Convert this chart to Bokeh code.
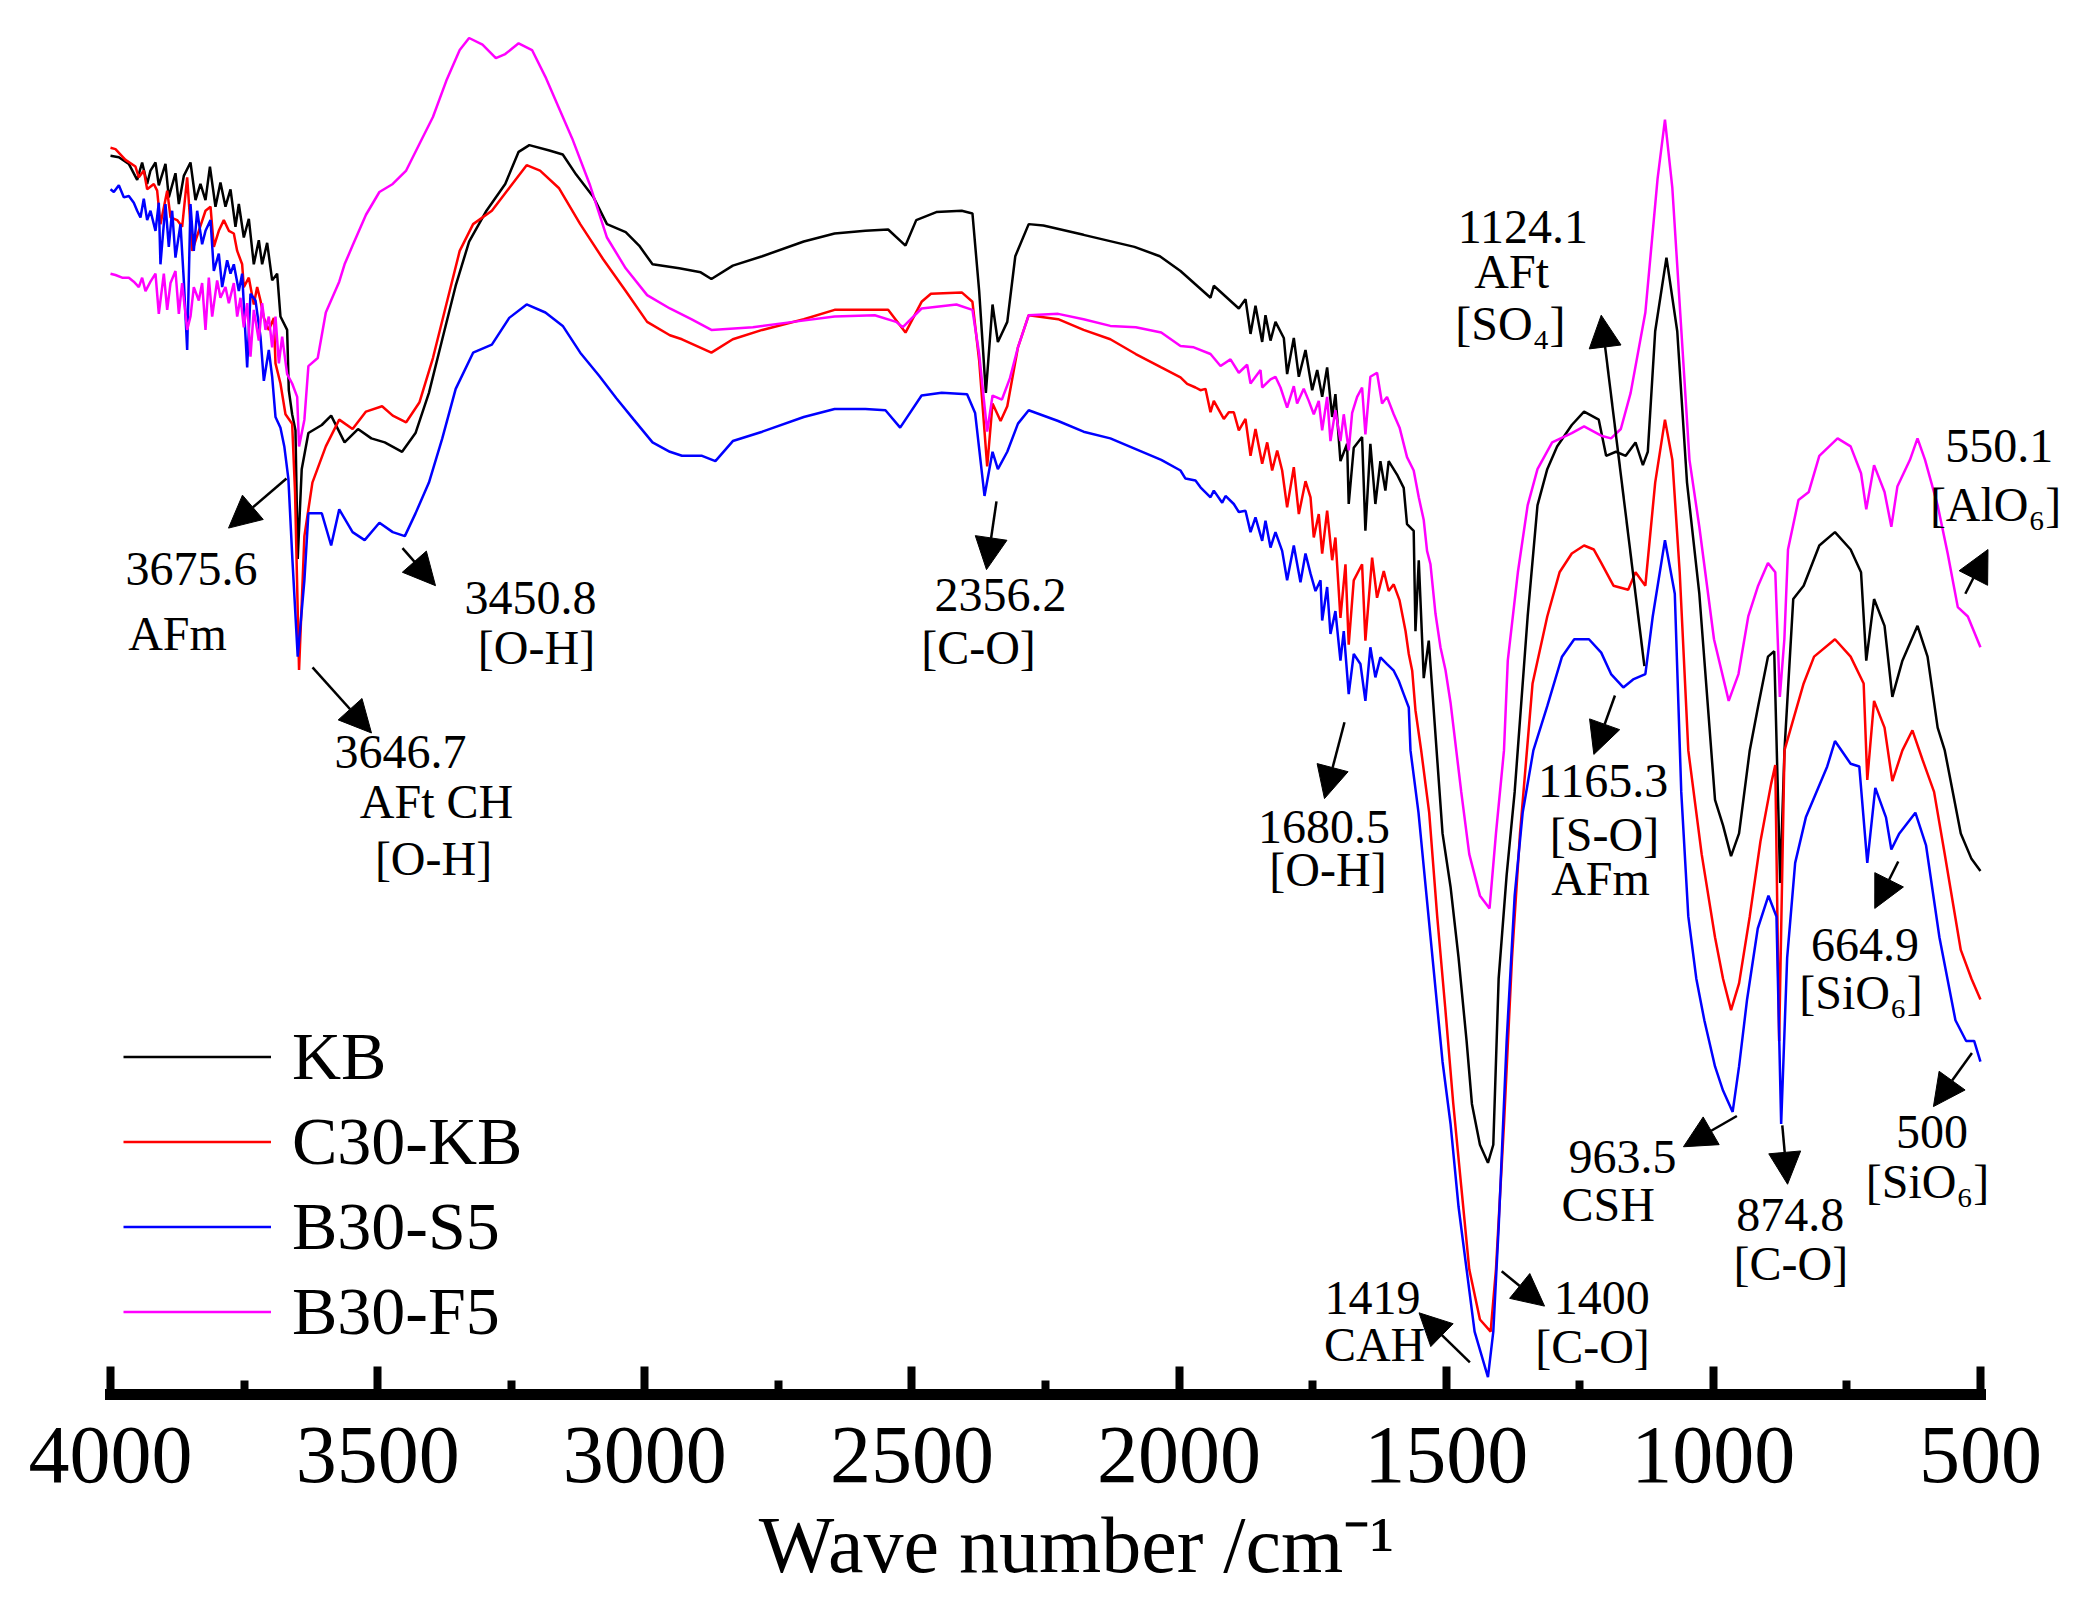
from bokeh.plotting import figure
from bokeh.models import Range1d, FixedTicker, Arrow, NormalHead, Legend, LegendItem, ColumnDataSource
from bokeh.embed import file_html
from bokeh.resources import INLINE
from bokeh.core.properties import value

FONT = "Liberation Serif"

# ---------------- data (wave number cm-1, transmittance a.u.) ----------------
series_names = ["KB", "C30-KB", "B30-S5", "B30-F5"]
series_colors = ["#000000", "#ff0000", "#0000ff", "#ff00ff"]

kb_wn = [4000, 3984.4, 3965.7, 3950.1, 3940.8, 3931.4, 3925.2, 3915.8, 3909.6, 3897.1, 3890.9, 3878.4,
         3872.1, 3862.8, 3850.3, 3840.9, 3831.6, 3822.2, 3813.9, 3803.5, 3794.2, 3784.8, 3775.4, 3766.1,
         3759.8, 3750.5, 3741.1, 3731.8, 3722.4, 3716.2, 3706.8, 3697.4, 3688.1, 3681.9, 3669.4, 3666.3,
         3660.0, 3653.8,
         3649.6, 3642.1, 3629.6, 3604.5,
         3587.0, 3561.9, 3536.8, 3511.8, 3486.7, 3454.2, 3429.1, 3404.0, 3379.0, 3353.9, 3328.8, 3296.3,
         3261.2, 3236.1, 3216.1, 3178.5, 3153.5, 3128.4, 3095.8, 3070.8, 3035.7, 3010.6, 2985.5, 2935.4,
         2895.3, 2875.3, 2835.2, 2780.1, 2702.4, 2644.7, 2587.1, 2544.5, 2512.0, 2491.9, 2454.3, 2406.7,
         2386.7, 2374.1, 2361.6, 2349.1, 2339.1, 2321.5, 2306.5, 2281.4, 2253.9, 2178.7, 2083.5, 2035.9,
         1997.3, 1941.1, 1934.9, 1888.1, 1875.6, 1866.2, 1856.9, 1844.4, 1838.2, 1828.8, 1819.5, 1803.9,
         1797.7, 1785.2, 1775.8, 1763.3, 1750.8, 1741.4, 1732.1, 1722.8, 1713.4, 1707.3, 1697.9, 1685.4,
         1682.4, 1673.0, 1657.4, 1651.2, 1641.9, 1632.5, 1623.1, 1613.8, 1607.6, 1592.0, 1579.5, 1573.3,
         1560.8, 1557.5, 1551.3, 1542.0, 1532.6, 1523.3, 1506.8, 1491.8, 1476.8, 1461.8, 1451.8, 1436.8,
         1421.8, 1411.8, 1401.8, 1386.8, 1371.8, 1347.5, 1329.1, 1310.8, 1292.4, 1264.9, 1241.9, 1214.4,
         1200.6, 1182.3, 1163.9, 1145.6, 1131.8, 1122.6, 1108.8, 1087.7, 1067.5, 1049.2, 1026.2, 996.8,
         981.8, 966.8, 951.8, 931.8, 916.1, 897.7, 886.0, 874.8, 866.8, 850.4, 830.9, 801.6,
         772.3, 743.0, 723.5, 713.7, 699.1, 679.5, 664.9, 646.1, 617.8, 599.0, 580.1, 566.8,
         536.8, 516.8, 500]
kb_t = [92.5, 92.4, 91.9, 90.7, 92.0, 90.4, 91.4, 92.0, 90.3, 91.9, 89.4, 91.2,
        88.9, 91.0, 92.0, 89.2, 90.4, 89.2, 91.7, 88.7, 90.5, 88.7, 90.0, 87.2,
        88.9, 86.4, 87.8, 84.4, 86.2, 84.4, 86.0, 83.2, 83.7, 80.5, 79.5, 75.0,
        73.2, 72.0,
        62.4, 69.1, 71.8, 72.4,
        73.1, 71.1, 72.1, 71.4, 71.1, 70.4, 71.8, 74.8, 78.8, 82.8, 86.1, 88.4,
        90.4, 92.8, 93.3, 92.9, 92.6, 91.1, 89.4, 87.4, 86.8, 85.8, 84.4, 84.1,
        83.8, 83.3, 84.3, 85.0, 86.1, 86.7, 86.9, 87.0, 85.8, 87.7, 88.3, 88.4,
        88.2, 82.4, 74.8, 81.4, 78.6, 80.1, 85.0, 87.4, 87.3, 86.6, 85.7, 85.0,
        83.9, 81.9, 82.8, 81.1, 81.8, 79.2, 81.3, 78.6, 80.6, 78.7, 80.1, 78.9,
        76.2, 78.9, 76.0, 78.0, 75.0, 76.5, 74.5, 76.7, 73.0, 74.7, 69.7, 71.0,
        66.5, 70.7, 71.5, 64.5, 71.0, 66.5, 69.7, 67.5, 69.7, 68.7, 67.7, 65.0,
        64.5, 57.0, 62.3, 53.5, 56.3, 51.1, 41.9, 37.9, 32.6, 26.4, 21.7, 18.65,
        17.3, 18.65, 31.05, 38.8, 45.0, 58.1, 66.4, 69.1, 70.8, 72.4, 73.4, 72.8,
        70.1, 70.4, 70.1, 71.1, 69.4, 70.4, 79.4, 84.9, 79.4, 68.1, 59.8, 44.4,
        42.5, 40.2, 41.9, 48.1, 51.4, 55.1, 55.5, 38.2, 48.1, 59.4, 60.4, 63.4,
        64.4, 63.1, 61.4, 54.8, 59.4, 57.4, 52.1, 54.8, 57.4, 55.1, 49.8, 48.1,
        41.9, 40.0, 39.1]

c30_wn = [4000, 3990.7, 3972.0, 3953.3, 3947.0, 3937.7, 3931.4, 3918.9, 3912.7, 3906.5, 3893.9, 3887.7,
          3875.3, 3865.9, 3856.5, 3847.2, 3834.7, 3822.2, 3812.8, 3806.6, 3797.3, 3787.9, 3778.5, 3769.2,
          3762.9, 3753.6, 3750.5, 3741.1, 3731.8, 3725.5, 3719.3, 3713.0, 3703.7, 3694.3, 3691.2, 3681.9,
          3672.5, 3660.0,
          3654.6, 3647.1, 3637.1, 3622.1, 3597.0, 3571.9, 3546.9, 3521.8, 3491.7, 3471.7,
          3446.6, 3421.6, 3396.5, 3371.5, 3346.4, 3321.3, 3286.2, 3253.7, 3221.1, 3196.0, 3160.9, 3120.8,
          3078.2, 3035.7, 2995.6, 2953.0, 2930.4, 2875.3, 2835.2, 2780.1, 2702.4, 2644.7, 2587.1, 2544.5,
          2512.0, 2481.9, 2464.4, 2406.7, 2386.7, 2374.1, 2359.1, 2349.1, 2334.0, 2321.5, 2301.5, 2281.4,
          2226.3, 2178.7, 2128.6, 2081.0, 2033.3, 1997.3, 1984.8, 1969.2, 1959.9, 1950.5, 1941.1, 1934.9,
          1916.2, 1906.9, 1897.5, 1888.1, 1875.6, 1866.2, 1856.9, 1844.4, 1835.0, 1825.7, 1816.3, 1807.0,
          1797.7, 1785.2, 1775.8, 1763.3, 1753.9, 1747.8, 1738.5, 1732.1, 1722.8, 1713.4, 1707.3, 1697.9,
          1688.5, 1682.4, 1673.0, 1657.4, 1651.2, 1638.6, 1629.4, 1616.8, 1607.6, 1598.2, 1587.2, 1576.0,
          1570.0, 1563.6, 1557.5, 1546.8, 1531.8, 1516.8, 1501.8, 1486.8, 1471.8, 1456.8, 1436.8, 1416.8,
          1406.8, 1391.8, 1376.8, 1361.8, 1338.3, 1310.8, 1287.8, 1264.9, 1241.9, 1223.6, 1209.8, 1186.9,
          1159.3, 1145.6, 1127.2, 1108.8, 1090.5, 1076.7, 1062.9, 1046.8, 1021.8, 996.8, 981.8, 966.8,
          951.8, 931.8, 911.8, 891.8, 884.0, 876.8, 866.8, 850.4, 830.9, 811.4, 772.3, 743.0,
          718.6, 711.8, 699.1, 679.5, 664.9, 646.1, 627.3, 608.4, 586.8, 566.8, 536.8, 516.8, 500]
c30_t = [93.1, 93.0, 92.2, 91.7, 90.9, 91.4, 90.0, 90.4, 89.9, 87.4, 89.9, 87.9,
         87.7, 87.2, 90.9, 85.4, 86.9, 88.4, 88.7, 85.7, 86.9, 87.7, 86.9, 86.7,
         85.4, 84.4, 82.7, 83.4, 81.4, 82.7, 81.7, 80.4, 79.5, 80.4, 77.0, 75.5,
         73.2, 72.5,
         67.4, 54.1, 64.1, 68.1, 70.8, 72.8, 72.1, 73.4, 73.8, 73.1,
         72.6, 74.1, 77.4, 81.4, 85.4, 87.4, 88.4, 90.1, 91.8, 91.4, 90.1, 87.4,
         84.8, 82.4, 80.1, 79.1, 78.8, 77.8, 78.8, 79.5, 80.3, 81.0, 81.0, 81.0,
         79.3, 81.6, 82.2, 82.3, 81.6, 77.2, 69.3, 74.0, 72.7, 73.8, 78.2, 80.6,
         80.3, 79.5, 78.8, 77.7, 76.7, 75.96, 75.47, 75.2, 75.0, 75.1, 73.35, 74.2,
         72.85, 73.35, 73.35, 72.0, 72.85, 70.1, 72.1, 69.5, 71.1, 69.0, 70.5, 69.0,
         66.25, 69.25, 65.75, 68.2, 67.0, 64.0, 65.75, 62.8, 66.0, 62.3, 64.0, 58.0,
         62.0, 56.0, 60.8, 62.0, 56.3, 62.5, 59.5, 61.5, 60.0, 60.5, 59.3, 57.0,
         55.3, 54.05, 51.1, 48.1, 43.45, 35.7, 28.9, 21.75, 15.55, 9.35, 5.6, 4.7,
         9.35, 20.2, 32.6, 41.9, 53.1, 58.1, 61.4, 62.8, 63.4, 63.1, 62.1, 60.4,
         60.1, 61.4, 60.4, 68.1, 72.8, 69.8, 61.4, 48.1, 40.35, 34.15, 31.05, 28.7,
         30.7, 35.7, 41.3, 45.6, 47.0, 26.4, 48.1, 50.4, 53.1, 55.1, 56.4, 55.1,
         53.1, 45.9, 51.8, 49.8, 45.8, 48.1, 49.6, 47.4, 45.0, 40.35, 33.2, 31.05, 29.5]

b30s5_wn = [4000, 3993.8, 3984.4, 3975.1, 3965.7, 3956.4, 3950.1, 3943.9, 3937.7, 3931.4, 3925.2, 3915.8,
            3909.6, 3906.5, 3897.1, 3890.9, 3884.6, 3878.4, 3869.0, 3862.8, 3856.5, 3850.3, 3844.1, 3837.8,
            3828.5, 3822.2, 3812.8, 3806.6, 3797.3, 3791.0, 3781.7, 3775.4, 3769.2, 3759.8, 3753.6, 3744.2,
            3738.0, 3728.6, 3719.3, 3713.0, 3703.7, 3697.4, 3691.2, 3681.9,
            3674.7, 3667.1, 3659.6, 3649.6, 3637.1, 3629.6, 3604.5,
            3587.0, 3571.9, 3546.9, 3524.3, 3496.7, 3471.7, 3449.1, 3429.1, 3404.0, 3379.0, 3353.9, 3321.3,
            3286.2, 3253.7, 3221.1, 3186.0, 3153.5, 3120.8, 3085.8, 3053.2, 3020.6, 2985.5, 2953.0, 2930.4,
            2892.8, 2867.8, 2835.2, 2780.1, 2702.4, 2644.7, 2587.1, 2549.5, 2522.0, 2481.9, 2444.3, 2396.7,
            2381.7, 2364.1, 2349.1, 2339.1, 2321.5, 2301.5, 2281.4, 2226.3, 2178.7, 2128.6, 2081.0, 2033.3,
            1997.3, 1988.0, 1969.2, 1959.9, 1941.1, 1934.9, 1919.2, 1913.0, 1897.5, 1888.1, 1875.6, 1866.2,
            1856.9, 1844.4, 1838.2, 1828.8, 1819.5, 1807.0, 1797.7, 1785.2, 1772.7, 1763.3, 1753.9, 1744.6,
            1735.2, 1732.1, 1722.8, 1716.6, 1707.3, 1697.9, 1691.7, 1682.4, 1673.0, 1660.5, 1651.2, 1641.9,
            1632.5, 1623.1, 1610.7, 1598.2, 1588.8, 1579.5, 1570.0, 1566.8, 1551.8, 1536.8, 1521.8, 1506.8,
            1491.8, 1476.8, 1461.8, 1446.8, 1421.8, 1411.8, 1401.8, 1386.8, 1371.8, 1356.8, 1336.8, 1310.8,
            1283.2, 1260.3, 1232.7, 1209.8, 1191.4, 1168.5, 1150.1, 1127.2, 1113.4, 1090.5, 1072.1, 1060.0,
            1046.8, 1031.8, 1016.8, 996.8, 981.8, 963.8, 951.8, 936.8, 916.8, 896.8, 881.8, 873.0,
            861.8, 846.8, 826.8, 786.8, 772.3, 743.0, 726.8, 711.8, 696.8, 676.8, 666.8, 651.8,
            621.8, 601.8, 576.8, 546.8, 526.8, 511.8, 500]
b30s5_t = [90.0, 89.8, 90.3, 89.4, 89.5, 89.0, 88.4, 87.9, 89.3, 87.7, 88.4, 86.9,
           89.0, 84.4, 88.9, 85.7, 88.4, 84.9, 87.4, 83.2, 78.0, 88.9, 85.4, 88.4,
           85.9, 86.9, 87.7, 83.9, 85.2, 82.7, 84.7, 83.7, 84.4, 82.4, 83.7, 76.7,
           82.2, 81.7, 79.0, 75.7, 78.0, 76.0, 73.0, 72.2,
           70.8, 68.4, 62.4, 55.1, 60.8, 65.8, 65.8,
           63.4, 66.1, 64.4, 63.8, 65.1, 64.4, 64.1, 65.8, 68.1, 71.4, 75.1, 77.8,
           78.4, 80.4, 81.4, 80.8, 79.8, 77.8, 76.1, 74.4, 72.8, 71.1, 70.4, 70.1,
           70.1, 69.7, 71.2, 71.9, 73.0, 73.6, 73.6, 73.5, 72.2, 74.6, 74.8, 74.7,
           73.3, 67.1, 70.4, 69.1, 70.4, 72.5, 73.5, 72.7, 71.9, 71.4, 70.6, 69.8,
           69.0, 68.4, 68.25, 67.75, 67.0, 67.5, 66.6, 67.1, 66.5, 65.9, 66.0, 64.4,
           65.5, 63.75, 65.25, 63.25, 64.4, 63.0, 60.8, 63.4, 60.65, 62.8, 61.3, 60.0,
           60.8, 57.8, 60.3, 56.8, 58.5, 54.8, 57.0, 52.3, 55.3, 54.55, 51.8, 55.8,
           53.55, 55.05, 54.55, 54.05, 53.3, 52.3, 51.3, 48.1, 43.45, 37.25, 31.05, 24.85,
           20.2, 14.0, 9.35, 4.7, 1.3, 4.7, 12.45, 26.4, 37.25, 43.45, 48.1, 51.4,
           55.1, 56.4, 56.4, 55.4, 53.8, 52.8, 53.4, 53.8, 58.1, 63.8, 59.8, 45.0,
           35.7, 31.05, 27.95, 24.5, 22.7, 21.1, 24.5, 29.5, 34.8, 37.25, 35.7, 20.2,
           32.6, 39.7, 43.1, 46.9, 48.8, 47.1, 46.9, 39.7, 45.3, 43.1, 40.7, 41.9,
           43.45, 41.0, 34.15, 27.95, 26.4, 26.4, 24.85]

b30f5_wn = [4000, 3990.7, 3978.2, 3965.7, 3956.4, 3947.0, 3940.8, 3934.5, 3925.2, 3915.8, 3909.6, 3900.2,
            3893.9, 3887.7, 3878.4, 3872.1, 3865.9, 3856.5, 3850.3, 3844.1, 3834.7, 3828.5, 3822.2, 3816.0,
            3809.7, 3800.4, 3794.2, 3784.8, 3778.5, 3769.2, 3762.9, 3756.7, 3750.5, 3744.2, 3738.0, 3731.8,
            3722.4, 3716.2, 3709.9, 3703.7, 3697.4, 3691.2, 3684.9, 3678.7, 3669.4, 3660.0, 3650.6,
            3647.1, 3637.1, 3629.6, 3612.1, 3597.0, 3571.9,
            3561.9, 3546.9, 3521.8, 3496.7, 3471.7, 3446.6, 3421.6, 3396.5, 3371.5, 3346.4, 3328.8, 3303.7,
            3278.7, 3261.2, 3236.1, 3211.0, 3186.0, 3160.9, 3135.9, 3103.3, 3070.8, 3035.7, 2995.6, 2953.0,
            2913.0, 2875.3, 2797.6, 2722.5, 2644.7, 2569.6, 2529.5, 2517.0, 2481.9, 2416.7, 2386.7, 2374.1,
            2359.1, 2349.1, 2331.5, 2316.5, 2301.5, 2281.4, 2226.3, 2178.7, 2128.6, 2081.0, 2033.3, 1997.3,
            1972.4, 1941.1, 1922.4, 1903.7, 1888.1, 1872.5, 1866.2, 1847.5, 1844.4, 1828.8, 1819.5, 1810.1,
            1797.7, 1785.2, 1779.0, 1766.6, 1757.2, 1747.8, 1738.5, 1732.1, 1722.8, 1716.6, 1707.3, 1697.9,
            1691.7, 1682.4, 1676.0, 1666.7, 1657.4, 1651.2, 1641.9, 1629.4, 1620.0, 1610.7, 1598.2, 1587.2,
            1573.3, 1560.8, 1551.3, 1542.0, 1535.8, 1529.4, 1520.0, 1510.7, 1501.3, 1491.6, 1471.8, 1456.8,
            1436.8, 1418.8, 1406.8, 1391.8, 1384.7, 1365.8, 1347.5, 1329.1, 1301.6, 1264.9, 1241.9, 1209.8,
            1191.4, 1173.1, 1154.7, 1127.2, 1104.3, 1090.5, 1076.7, 1062.9, 1044.6, 1026.2, 998.7, 971.2,
            952.9, 934.6, 916.1, 897.7, 884.0, 875.5, 867.0, 860.2, 840.6, 821.3, 801.6, 767.4,
            743.0, 723.5, 713.7, 699.1, 679.5, 666.8, 655.5, 631.9, 617.8, 603.7, 580.1, 561.3,
            542.4, 523.6, 500]
b30f5_t = [83.7, 83.6, 83.4, 83.4, 83.1, 82.7, 83.4, 82.4, 83.1, 83.7, 80.7, 83.7,
           81.0, 83.0, 83.9, 80.7, 83.0, 79.5, 80.5, 82.7, 81.7, 83.0, 79.5, 83.4,
           80.5, 83.2, 81.9, 82.7, 81.5, 83.0, 80.5, 81.9, 79.7, 81.5, 77.5, 81.0,
           78.7, 81.5, 79.5, 80.5, 78.2, 80.5, 77.0, 79.0, 76.2, 75.5, 74.5,
           70.8, 72.8, 76.8, 77.4, 80.8, 83.1,
           84.4, 85.8, 88.1, 89.8, 90.4, 91.4, 93.4, 95.4, 98.1, 100.4, 101.3, 100.8,
           99.8, 100.1, 100.9, 100.4, 98.4, 96.1, 93.8, 90.4, 86.4, 84.1, 82.1, 81.1,
           80.3, 79.5, 79.7, 80.1, 80.5, 80.6, 80.1, 79.7, 81.1, 81.4, 81.0, 77.7,
           71.9, 74.6, 74.3, 75.9, 78.2, 80.6, 80.7, 80.3, 79.8, 79.7, 79.3, 78.3,
           78.2, 77.7, 76.8, 77.3, 76.3, 76.9, 75.5, 76.5, 75.2, 75.8, 76.0, 75.2,
           73.7, 75.3, 74.0, 75.1, 74.2, 73.2, 74.2, 72.0, 74.5, 71.2, 73.5, 71.2,
           73.2, 70.5, 73.3, 74.5, 75.2, 71.7, 76.0, 76.3, 74.0, 74.5, 73.2, 72.2,
           70.0, 69.0, 67.0, 65.3, 63.0, 62.0, 58.3, 55.8, 54.1, 51.6, 45.0, 40.35,
           37.25, 36.3, 41.9, 48.1, 54.8, 61.4, 66.4, 69.1, 71.1, 71.8, 72.3, 71.6,
           71.4, 72.1, 74.8, 80.8, 90.8, 95.2, 90.1, 81.4, 69.8, 64.8, 56.4, 51.8,
           53.8, 58.1, 60.4, 62.1, 61.4, 52.1, 56.4, 63.1, 66.8, 67.4, 70.1, 71.4,
           70.8, 68.8, 66.1, 69.4, 67.4, 64.8, 67.8, 69.8, 71.4, 69.8, 66.4, 62.8,
           58.8, 58.1, 55.8]

tick_values = [4000, 3500, 3000, 2500, 2000, 1500, 1000, 500]
tick_labels = ["4000", "3500", "3000", "2500", "2000", "1500", "1000", "500"]
minor_values = [3750, 3250, 2750, 2250, 1750, 1250, 750]
x_title = "\u00a0\u00a0\u00a0\u00a0Wave number /cm\u207b\u00b9"

# peak annotations: text, wave-number position, level (baseline)
ann_text = ["3675.6", "AFm", "3450.8", "[O-H]", "3646.7", "AFt CH", "[O-H]",
            "2356.2", "[C-O]", "1680.5", "[O-H]", "1165.3", "[S-O]", "AFm",
            "1124.1", "AFt", "[SO\u2084]", "550.1", "[AlO\u2086]", "664.9", "[SiO\u2086]",
            "500", "[SiO\u2086]", "963.5", "CSH", "874.8", "[C-O]", "1400", "[C-O]",
            "1419", "CAH"]
ann_wn = [3848.4, 3874.6, 3213.9, 3202.7, 3457.2, 3389.8, 3395.4,
          2334.2, 2375.4, 1728.7, 1721.2, 1206.3, 1203.7, 1211.2,
          1356.6, 1377.4, 1379.8, 464.7, 471.7, 716.2, 723.7,
          590.9, 599.2, 1170.0, 1196.6, 856.2, 854.7, 1208.7, 1226.2,
          1638.0, 1634.0]
ann_t = [61.65, 56.8, 59.5, 55.75, 48.0, 44.25, 40.0,
         59.7, 55.75, 42.4, 39.2, 45.8, 41.85, 38.5,
         87.2, 83.85, 80.0, 70.8, 66.5, 33.6, 30.0,
         19.6, 15.9, 17.75, 14.2, 13.4, 9.8, 7.2, 3.6,
         7.2, 3.7]

# arrows: start / end (wave number, level)
arr_wn0 = [3670.6, 3453.5, 3621.9, 2341.7, 1690.3, 1184.1, 1129.0, 528.3, 653.8, 515.9, 955.9, 870.9, 1396.1, 1455.6]
arr_t0 = [68.4, 63.2, 54.3, 66.7, 50.2, 52.2, 54.4, 59.8, 39.8, 25.5, 20.8, 20.1, 9.2, 2.4]
arr_wn1 = [3779.1, 3391.7, 3511.5, 2360.4, 1727.8, 1223.6, 1209.8, 485.9, 697.8, 588.0, 1055.9, 861.0, 1315.9, 1550.8]
arr_t1 = [64.7, 60.4, 49.4, 61.6, 44.5, 47.8, 80.6, 63.1, 36.3, 21.5, 18.5, 15.7, 6.6, 6.1]

# ---------------- figure ----------------
p = figure(width=2072, height=1592, output_backend="svg", toolbar_location=None,
           x_range=Range1d(4205.9, 327.7), y_range=Range1d(0, 104.1),
           y_axis_location=None, min_border_left=0, min_border_right=0,
           min_border_top=0, min_border_bottom=198)
p.outline_line_color = None
p.grid.visible = False
p.background_fill_color = "white"
p.border_fill_color = "white"

renderers = []
for wn, t, c in zip([kb_wn, c30_wn, b30s5_wn, b30f5_wn], [kb_t, c30_t, b30s5_t, b30f5_t], series_colors):
    renderers.append(p.line(wn, t, line_color=c, line_width=2.5))

ax = p.xaxis[0]
ax.ticker = FixedTicker(ticks=tick_values, minor_ticks=minor_values)
ax.major_label_overrides = {v: s for v, s in zip(tick_values, tick_labels)}
ax.bounds = (500, 4000)
ax.axis_line_width = 11
ax.axis_line_cap = "square"
ax.axis_line_color = "black"
ax.major_tick_in = 28
ax.major_tick_out = 0
ax.major_tick_line_width = 8
ax.major_tick_line_color = "black"
ax.minor_tick_in = 14
ax.minor_tick_out = 0
ax.minor_tick_line_width = 8
ax.minor_tick_line_color = "black"
ax.major_label_text_font = FONT
ax.major_label_text_font_size = "82px"
ax.major_label_text_color = "black"
ax.major_label_standoff = 33
ax.axis_label = x_title
ax.axis_label_text_font = FONT
ax.axis_label_text_font_size = "80px"
ax.axis_label_text_font_style = "normal"
ax.axis_label_text_color = "black"
ax.axis_label_standoff = 16

legend = Legend(items=[LegendItem(label=n, renderers=[r]) for n, r in zip(series_names, renderers)],
                location=(123, 40), orientation="vertical",
                label_text_font=FONT, label_text_font_size="68px", label_text_color="black",
                glyph_width=148, glyph_height=85, label_height=85, label_standoff=21,
                spacing=0, padding=0, margin=0, border_line_color=None,
                background_fill_alpha=0)
p.add_layout(legend)

p.text(x=ann_wn, y=ann_t, text=ann_text, text_font=value(FONT), text_font_size=value("48px"),
       text_align="center", text_baseline="alphabetic", text_color="black")

arrow_src = ColumnDataSource(dict(x0=arr_wn0, y0=arr_t0, x1=arr_wn1, y1=arr_t1))
p.add_layout(Arrow(source=arrow_src, x_start="x0", y_start="y0", x_end="x1", y_end="y1",
                   line_width=2.5, line_color="black",
                   end=NormalHead(size=32, fill_color="black", line_color="black", line_width=1)))

open("out.html", "w").write(file_html(p, INLINE))
